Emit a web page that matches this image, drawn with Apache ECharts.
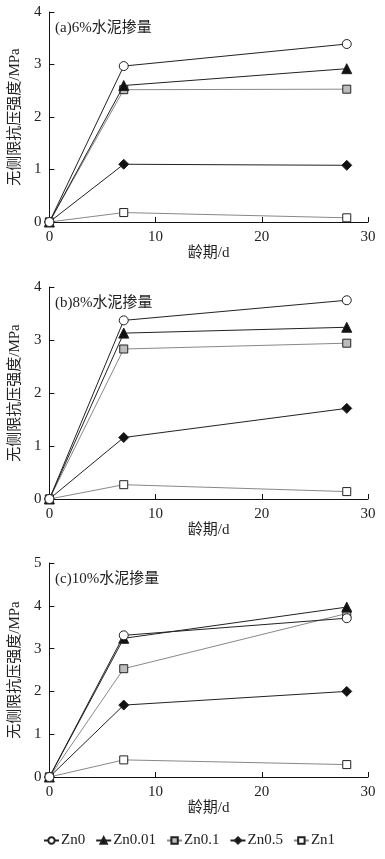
<!DOCTYPE html>
<html><head><meta charset="utf-8">
<script src="https://cdn.jsdelivr.net/npm/echarts@6/dist/echarts.min.js"></script>
<style>html,body{margin:0;padding:0;background:#fff}#c{width:385px;height:859px}</style>
</head><body><div id="c"></div>
<script>
const ages = [0, 7, 28];
const seriesNames = ['Zn0', 'Zn0.01', 'Zn0.1', 'Zn0.5', 'Zn1'];
const panelTitles = ['(a)6%水泥掺量', '(b)8%水泥掺量', '(c)10%水泥掺量'];
const yMaxes = [4, 4, 5];
const xTicks = [0, 10, 20, 30];
// panel a: 6% cement
const a_Zn0 = [0, 2.97, 3.39];
const a_Zn001 = [0, 2.60, 2.92];
const a_Zn01 = [0, 2.52, 2.53];
const a_Zn05 = [0, 1.10, 1.08];
const a_Zn1 = [0, 0.18, 0.08];
// panel b: 8% cement
const b_Zn0 = [0, 3.37, 3.75];
const b_Zn001 = [0, 3.13, 3.24];
const b_Zn01 = [0, 2.83, 2.94];
const b_Zn05 = [0, 1.16, 1.71];
const b_Zn1 = [0, 0.27, 0.14];
// panel c: 10% cement
const c_Zn0 = [0, 3.31, 3.71];
const c_Zn001 = [0, 3.24, 3.97];
const c_Zn01 = [0, 2.53, 3.82];
const c_Zn05 = [0, 1.68, 2.00];
const c_Zn1 = [0, 0.40, 0.29];

const panels = [
  [a_Zn0, a_Zn001, a_Zn01, a_Zn05, a_Zn1],
  [b_Zn0, b_Zn001, b_Zn01, b_Zn05, b_Zn1],
  [c_Zn0, c_Zn001, c_Zn01, c_Zn05, c_Zn1]
];

const FONT = '"Liberation Serif","Noto Sans CJK SC",serif';
const TXT = '#222';
const styles = [
  {symbol: 'circle', size: 9, fill: '#fff', line: '#222'},
  {symbol: 'triangle', size: 10, fill: '#111', line: '#222'},
  {symbol: 'rect', size: 8, fill: '#bdbdbd', line: '#888'},
  {symbol: 'diamond', size: 10, fill: '#111', line: '#222'},
  {symbol: 'rect', size: 8, fill: '#fff', line: '#888'}
];

const grids = [
  {left: 47, width: 321, top: 12, height: 210},
  {left: 47, width: 321, top: 287, height: 212},
  {left: 47, width: 321, top: 563, height: 214}
];

const xAxes = [], yAxes = [], series = [], titles = [];
grids.forEach((g, i) => {
  xAxes.push({
    type: 'value', gridIndex: i, min: 0, max: 30, interval: 10,
    name: '龄期/d', nameLocation: 'middle', nameGap: 24,
    nameTextStyle: {fontFamily: FONT, fontSize: 15, color: TXT},
    axisLine: {show: true, onZero: false, lineStyle: {color: '#111', width: 1}},
    axisTick: {show: true, inside: true, length: 5, lineStyle: {color: '#111'}},
    axisLabel: {fontFamily: FONT, fontSize: 15, color: TXT, margin: 8},
    splitLine: {show: false}
  });
  yAxes.push({
    type: 'value', gridIndex: i, min: 0, max: yMaxes[i], interval: 1,
    name: '无侧限抗压强度/MPa', nameLocation: 'middle', nameGap: 24,
    nameTextStyle: {fontFamily: FONT, fontSize: 15, color: TXT},
    axisLine: {show: true, onZero: false, lineStyle: {color: '#111', width: 1}},
    axisTick: {show: true, inside: true, length: 5, lineStyle: {color: '#111'}},
    axisLabel: {fontFamily: FONT, fontSize: 15, color: TXT, margin: 8},
    splitLine: {show: false}
  });
  titles.push({
    text: panelTitles[i], left: 55, top: g.top + 9, padding: 0,
    textStyle: {fontFamily: FONT, fontSize: 15, fontWeight: 'normal', color: TXT}
  });
  panels[i].forEach((vals, k) => {
    const s = styles[k];
    series.push({
      type: 'line', name: seriesNames[k], xAxisIndex: i, yAxisIndex: i,
      data: ages.map((x, j) => [x, vals[j]]),
      symbol: s.symbol, symbolSize: s.size, showAllSymbol: true,
      lineStyle: {color: s.line, width: 1},
      itemStyle: {color: s.fill, borderColor: '#222', borderWidth: 1},
      emphasis: {disabled: true}, animation: false, z: 10 - k
    });
  });
});

const chart = echarts.init(document.getElementById('c'));
chart.setOption({
  animation: false,
  backgroundColor: '#fff',
  title: titles,
  grid: grids,
  xAxis: xAxes,
  yAxis: yAxes,
  legend: {
    data: seriesNames, left: 43, top: 833, padding: 0, itemWidth: 15, itemHeight: 8, itemGap: 10,
    textStyle: {fontFamily: FONT, fontSize: 15, color: TXT, padding: [0, 0, 0, -3]},
    selectedMode: false
  },
  series: series
});
</script></body></html>
